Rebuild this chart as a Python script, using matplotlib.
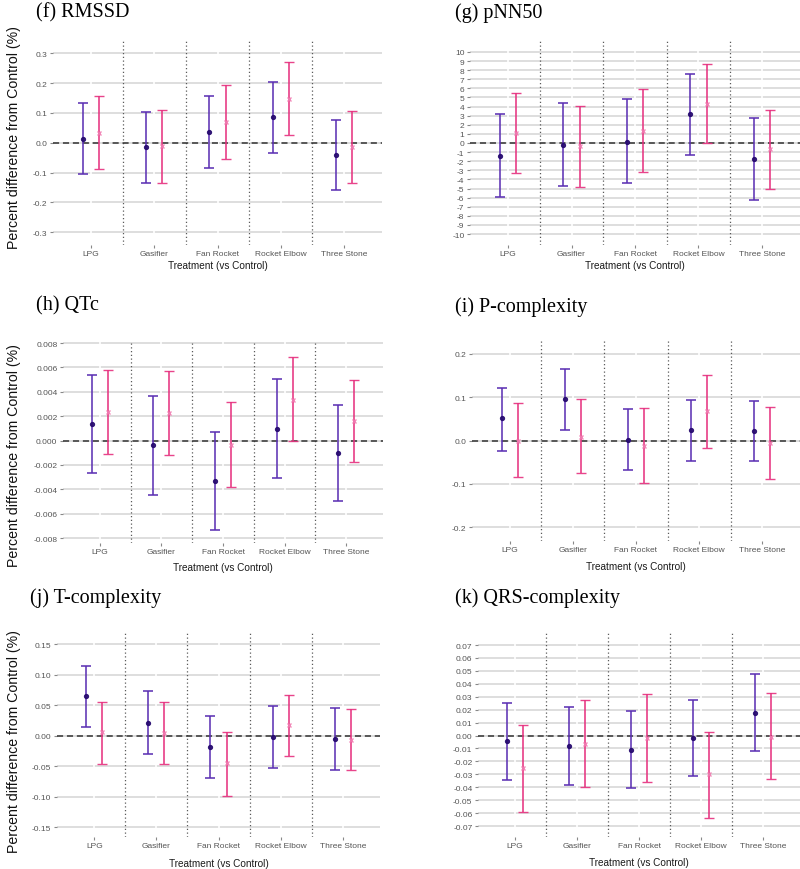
import numpy as np
import matplotlib
matplotlib.use("Agg")
import matplotlib.pyplot as plt

plt.rcParams["axes.unicode_minus"] = False

categories = ["LPG", "Gasifier", "Fan Rocket", "Rocket Elbow", "Three Stone"]

# (f) RMSSD  -- purple series (a) and pink series (b)
rmssd_a = [0.013, -0.016, 0.036, 0.085, -0.041]
rmssd_a_lo = [-0.106, -0.134, -0.085, -0.033, -0.158]
rmssd_a_hi = [0.133, 0.104, 0.156, 0.202, 0.075]
rmssd_b = [0.033, -0.012, 0.069, 0.147, -0.013]
rmssd_b_lo = [-0.089, -0.134, -0.056, 0.027, -0.134]
rmssd_b_hi = [0.155, 0.111, 0.195, 0.270, 0.107]

# (g) pNN50
pnn50_a = [-1.39, -0.18, 0.15, 3.14, -1.79]
pnn50_a_lo = [-5.91, -4.74, -4.38, -1.35, -6.24]
pnn50_a_hi = [3.18, 4.42, 4.78, 7.63, 2.70]
pnn50_b = [1.06, -0.36, 1.31, 4.31, -0.66]
pnn50_b_lo = [-3.28, -4.78, -3.18, 0.0, -5.07]
pnn50_b_hi = [5.47, 4.05, 5.88, 8.69, 3.65]

# (h) QTc
qtc_a = [0.00136, -0.00035, -0.00329, 0.00095, -0.00103]
qtc_a_lo = [-0.00264, -0.00444, -0.00735, -0.0031, -0.00498]
qtc_a_hi = [0.00536, 0.00367, 0.00073, 0.00503, 0.00291]
qtc_b = [0.00234, 0.00223, -0.00033, 0.00337, 0.0016]
qtc_b_lo = [-0.00112, -0.00117, -0.00384, -0.00005, -0.00177]
qtc_b_hi = [0.0058, 0.00571, 0.00316, 0.00683, 0.00498]

# (i) P-complexity
pcx_a = [0.051, 0.097, 0.002, 0.024, 0.022]
pcx_a_lo = [-0.023, 0.025, -0.069, -0.047, -0.048]
pcx_a_hi = [0.122, 0.166, 0.074, 0.093, 0.091]
pcx_b = [0.0, 0.009, -0.012, 0.068, -0.005]
pcx_b_lo = [-0.085, -0.075, -0.098, -0.017, -0.088]
pcx_b_hi = [0.086, 0.095, 0.075, 0.152, 0.078]

# (j) T-complexity
tcx_a = [0.065, 0.021, -0.018, -0.002, -0.0055]
tcx_a_lo = [0.014, -0.030, -0.070, -0.0525, -0.056]
tcx_a_hi = [0.115, 0.073, 0.033, 0.048, 0.045]
tcx_b = [0.0055, 0.004, -0.045, 0.0175, -0.007]
tcx_b_lo = [-0.046, -0.047, -0.0985, -0.033, -0.056]
tcx_b_hi = [0.055, 0.055, 0.006, 0.067, 0.043]

# (k) QRS-complexity
qrs_a = [-0.0046, -0.008, -0.011, -0.002, 0.0178]
qrs_a_lo = [-0.0347, -0.0381, -0.0409, -0.0317, -0.0116]
qrs_a_hi = [0.025, 0.0219, 0.019, 0.0278, 0.0473]
qrs_b = [-0.025, -0.0064, -0.002, -0.030, -0.0008]
qrs_b_lo = [-0.0589, -0.0401, -0.0363, -0.0636, -0.0335]
qrs_b_hi = [0.0082, 0.0275, 0.0322, 0.0028, 0.0327]

rmssd_ticks = [-0.3, -0.2, -0.1, 0.0, 0.1, 0.2, 0.3]
pnn50_ticks = list(range(-10, 11))
qtc_ticks = [-0.008, -0.006, -0.004, -0.002, 0.0, 0.002, 0.004, 0.006, 0.008]
pcx_ticks = [-0.2, -0.1, 0.0, 0.1, 0.2]
tcx_ticks = [-0.15, -0.10, -0.05, 0.0, 0.05, 0.10, 0.15]
qrs_ticks = [round(v * 0.01, 2) for v in range(-7, 8)]

PURPLE = "#5b2fb3"
PURPLE_DOT = "#25096e"
PINK = "#e6317f"
PINK_X = "#f07ab0"

W, H = 800, 870


def px_box(x0, x1, y0, y1):
    return [x0 / W, 1 - y1 / H, (x1 - x0) / W, (y1 - y0) / H]


def draw_panel(fig, spec):
    ax = fig.add_axes(px_box(*spec["box"]))
    x = np.arange(1, len(categories) + 1)
    dodge = 0.13

    ax.set_xlim(0.4, 5.6)
    ax.set_ylim(*spec["ylim"])
    ax.set_yticks(spec["ticks"])
    ax.set_yticklabels([spec["fmt"].format(t) for t in spec["ticks"]])
    ax.set_xticks(x)
    ax.set_xticklabels(categories)

    for s in ax.spines.values():
        s.set_visible(False)
    ax.set_facecolor("white")
    ax.grid(axis="y", color="#d4d4d4", lw=1.1)
    ax.set_axisbelow(True)
    for xi in x:
        ax.axvline(xi, color="white", lw=1.2, zorder=0.8)
    for xi in x[:-1] + 0.5:
        ax.axvline(xi, color="#5a5a5a", lw=0.9, ls=(0, (1, 2)), zorder=1)
    ax.axhline(0, color="#333333", lw=1.1, ls=(0, (4, 2.5)), zorder=1.5)

    a, a_lo, a_hi, b, b_lo, b_hi = [np.array(v) for v in spec["data"]]
    ax.errorbar(x - dodge, a, yerr=[a - a_lo, a_hi - a], fmt="o",
                color=PURPLE_DOT, ms=2.8, ecolor=PURPLE, elinewidth=1.25,
                capsize=3.5, capthick=1.25, alpha=0.9, zorder=3)
    ax.errorbar(x + dodge, b, yerr=[b - b_lo, b_hi - b], fmt="x",
                color=PINK_X, ms=3.2, mew=1.0, ecolor=PINK, elinewidth=1.25,
                capsize=3.5, capthick=1.25, alpha=0.9, zorder=3)

    ax.tick_params(length=2.5, width=0.8, color="#888888",
                   labelsize=6.0, labelcolor="#555555", pad=1.5)
    ax.tick_params(axis="x", pad=1.2)

    x0, x1, y0, y1 = spec["box"]
    fig.text(spec["title_xy"][0] / W, 1 - spec["title_xy"][1] / H, spec["title"],
             family="Liberation Serif", fontsize=14.5, va="center", ha="left")
    fig.text((x0 + x1) / 2 / W, 1 - spec["xlabel_y"] / H, "Treatment (vs Control)",
             fontsize=7.2, ha="center", va="center", color="#1a1a1a")
    if spec["ylabel_y"] is not None:
        fig.text(14 / W, 1 - spec["ylabel_y"] / H, "Percent difference from Control (%)",
                 rotation=90, fontsize=10.2, ha="center", va="center", color="#111111")
    return ax


def main():
    plt.rcParams["font.family"] = ["Liberation Sans", "DejaVu Sans"]
    fig = plt.figure(figsize=(W / 100, H / 100), dpi=100)

    panels = [
        dict(title="(f) RMSSD", title_xy=(36, 13), box=(53, 382, 42, 246),
             ylim=(-0.343, 0.341), ticks=rmssd_ticks, fmt="{:.1f}",
             data=(rmssd_a, rmssd_a_lo, rmssd_a_hi, rmssd_b, rmssd_b_lo, rmssd_b_hi),
             xlabel_y=266, ylabel_y=138),
        dict(title="(g) pNN50", title_xy=(455, 13), box=(470, 800, 42, 246),
             ylim=(-11.2, 11.2), ticks=pnn50_ticks, fmt="{:d}",
             data=(pnn50_a, pnn50_a_lo, pnn50_a_hi, pnn50_b, pnn50_b_lo, pnn50_b_hi),
             xlabel_y=266, ylabel_y=None),
        dict(title="(h) QTc", title_xy=(36, 306), box=(63, 383, 342, 544),
             ylim=(-0.0084, 0.00817), ticks=qtc_ticks, fmt="{:.3f}",
             data=(qtc_a, qtc_a_lo, qtc_a_hi, qtc_b, qtc_b_lo, qtc_b_hi),
             xlabel_y=568, ylabel_y=456),
        dict(title="(i) P-complexity", title_xy=(455, 307), box=(472, 800, 342, 542),
             ylim=(-0.232, 0.23), ticks=pcx_ticks, fmt="{:.1f}",
             data=(pcx_a, pcx_a_lo, pcx_a_hi, pcx_b, pcx_b_lo, pcx_b_hi),
             xlabel_y=567, ylabel_y=None),
        dict(title="(j) T-complexity", title_xy=(30, 598), box=(57, 380, 633, 838),
             ylim=(-0.166, 0.17), ticks=tcx_ticks, fmt="{:.2f}",
             data=(tcx_a, tcx_a_lo, tcx_a_hi, tcx_b, tcx_b_lo, tcx_b_hi),
             xlabel_y=864, ylabel_y=742),
        dict(title="(k) QRS-complexity", title_xy=(455, 598), box=(478, 800, 634, 838),
             ylim=(-0.0785, 0.0793), ticks=qrs_ticks, fmt="{:.2f}",
             data=(qrs_a, qrs_a_lo, qrs_a_hi, qrs_b, qrs_b_lo, qrs_b_hi),
             xlabel_y=863, ylabel_y=None),
    ]

    for spec in panels:
        draw_panel(fig, spec)

    fig.savefig("out.png", dpi=100, facecolor="white")


if __name__ == "__main__":
    main()
